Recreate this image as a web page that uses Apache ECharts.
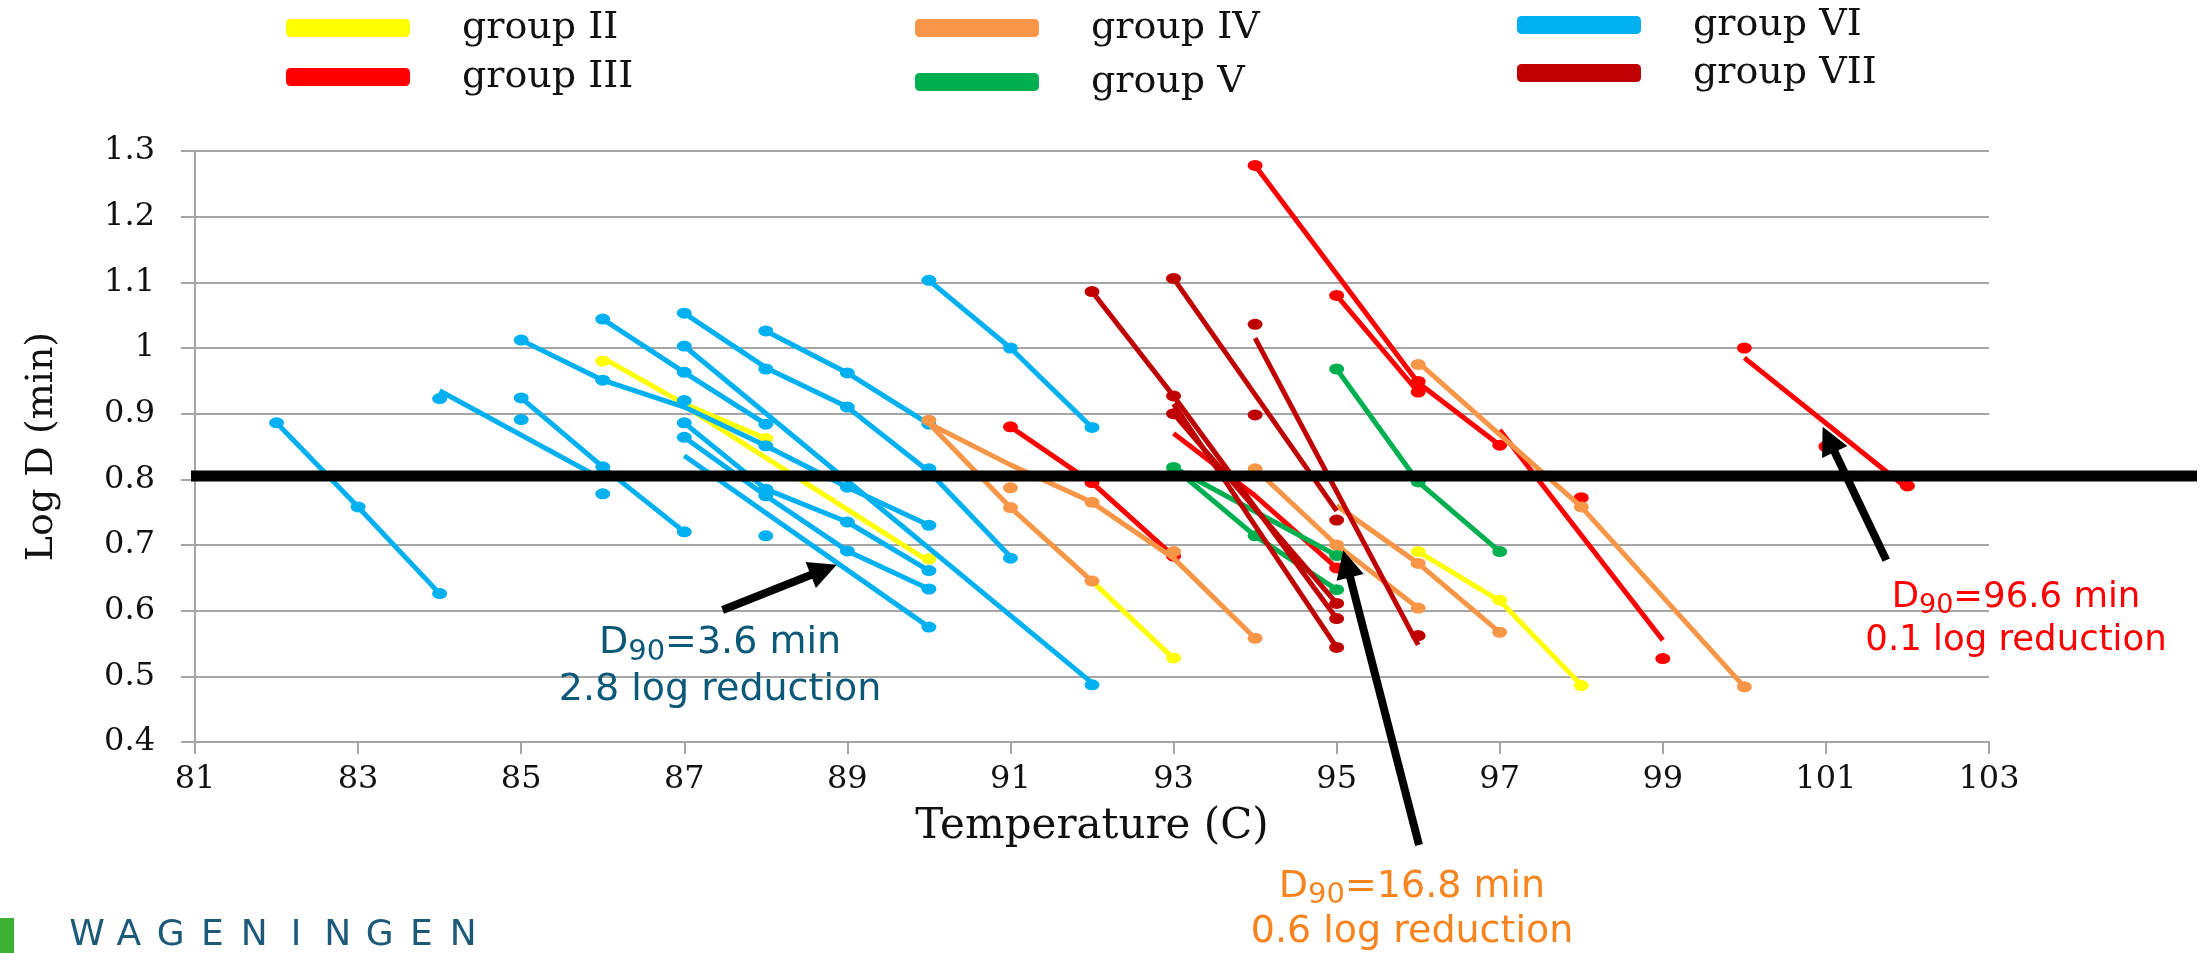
<!DOCTYPE html>
<html>
<head>
<meta charset="utf-8">
<script src="https://cdn.jsdelivr.net/npm/echarts@6/dist/echarts.min.js"></script>
<style>
  html, body { margin: 0; padding: 0; background: #ffffff; }
  #chart { width: 2207px; height: 953px; }
</style>
</head>
<body>
<div id="chart"></div>
<script>
// ---- axes ----
const tempRange = [81, 103];      // Temperature (C)
const tempStep = 2;
const logDRange = [0.4, 1.3];     // Log D (min)
const logDStep = 0.1;
const thresholdLogD = 0.805;      // heavy reference line

// ---- data: each line is a list of [temperature, log D]; points are the plotted markers ----
const linesII = [
  [[86, 0.985], [87, 0.915], [88, 0.862]],
  [[87, 0.912], [90, 0.675]],
  [[92, 0.645], [93, 0.527]],
  [[96, 0.69], [97, 0.615], [98, 0.487]]
];
const pointsII = [[86, 0.98], [88, 0.862], [90, 0.679], [93, 0.528], [96, 0.69], [97, 0.616], [98, 0.486]];

const linesIII = [
  [[91, 0.88], [92, 0.795], [93, 0.683]],
  [[93, 0.87], [94, 0.775], [95, 0.665]],
  [[94, 1.278], [96, 0.947], [97, 0.852]],
  [[95, 1.08], [96, 0.933]],
  [[97, 0.875], [99, 0.555]],
  [[100, 0.985], [102, 0.786]]
];
const pointsIII = [[91, 0.88], [92, 0.795], [93, 0.683], [94, 1.278], [95, 1.08], [95, 0.665],
  [96, 0.949], [96, 0.933], [97, 0.852], [98, 0.772], [99, 0.527], [100, 1.0], [101, 0.85], [102, 0.79]];

const linesIV = [
  [[90, 0.885], [91, 0.822], [92, 0.765], [93, 0.68], [94, 0.558]],
  [[90, 0.885], [91, 0.757], [92, 0.645]],
  [[94, 0.816], [95, 0.70], [96, 0.604]],
  [[95, 0.76], [96, 0.672], [97, 0.567]],
  [[96, 0.978], [98, 0.758], [100, 0.484]]
];
const pointsIV = [[90, 0.89], [91, 0.787], [91, 0.757], [92, 0.765], [92, 0.645], [93, 0.69], [94, 0.816],
  [94, 0.558], [95, 0.70], [96, 0.975], [96, 0.672], [96, 0.604], [97, 0.567], [98, 0.758], [100, 0.484]];

const linesV = [
  [[93, 0.818], [95, 0.684]],
  [[93, 0.818], [94, 0.714], [95, 0.632]],
  [[95, 0.968], [96, 0.796], [97, 0.69]]
];
const pointsV = [[93, 0.818], [94, 0.714], [95, 0.684], [95, 0.632], [95, 0.968], [96, 0.796], [97, 0.69]];

const linesVI = [
  [[82, 0.886], [83, 0.758], [84, 0.626]],
  [[84, 0.935], [86, 0.80]],
  [[85, 0.924], [86, 0.819], [87, 0.72]],
  [[85, 1.012], [86, 0.951], [87, 0.91], [88, 0.851], [89, 0.788], [90, 0.73]],
  [[86, 1.044], [87, 0.963], [88, 0.884]],
  [[87, 1.053], [88, 0.97], [89, 0.91], [90, 0.812], [91, 0.682]],
  [[88, 1.026], [89, 0.962], [90, 0.884]],
  [[87, 1.003], [92, 0.49]],
  [[87, 0.886], [88, 0.785], [89, 0.735], [90, 0.661]],
  [[87, 0.864], [88, 0.775], [89, 0.691], [90, 0.633]],
  [[87, 0.836], [90, 0.575]],
  [[90, 1.103], [91, 1.0], [92, 0.879]]
];
const pointsVI = [[82, 0.886], [83, 0.758], [84, 0.626], [84, 0.923], [85, 1.012], [85, 0.924], [85, 0.891],
  [86, 1.044], [86, 0.951], [86, 0.819], [86, 0.778], [87, 1.053], [87, 1.003], [87, 0.963], [87, 0.92],
  [87, 0.886], [87, 0.864], [87, 0.72], [88, 1.026], [88, 0.968], [88, 0.884], [88, 0.851], [88, 0.785],
  [88, 0.775], [88, 0.714], [89, 0.962], [89, 0.91], [89, 0.788], [89, 0.735], [89, 0.691], [90, 1.103],
  [90, 0.884], [90, 0.816], [90, 0.73], [90, 0.661], [90, 0.633], [90, 0.575], [91, 1.0], [91, 0.68],
  [92, 0.879], [92, 0.487]];

const linesVII = [
  [[92, 1.086], [93, 0.927], [95, 0.588]],
  [[93, 0.90], [95, 0.611]],
  [[93, 0.915], [95, 0.544]],
  [[93, 1.106], [95, 0.752]],
  [[94, 1.015], [96, 0.548]]
];
const pointsVII = [[92, 1.086], [93, 1.106], [93, 0.927], [93, 0.90], [94, 1.036], [94, 0.898],
  [95, 0.738], [95, 0.611], [95, 0.588], [95, 0.544], [96, 0.562]];

// ---- annotations: arrow from tail to tip, in [temperature, log D] ----
const notes = [
  { d90: '=3.6 min',  reduction: '2.8 log reduction', tail: [87.47, 0.601], tip: [88.87, 0.670] },
  { d90: '=16.8 min', reduction: '0.6 log reduction', tail: [96.01, 0.243], tip: [95.08, 0.692] },
  { d90: '=96.6 min', reduction: '0.1 log reduction', tail: [101.74, 0.677], tip: [100.96, 0.880] }
];

// ---- styling ----
const groups = [
  { name: 'group II',  color: '#FFFF00', lines: linesII,  points: pointsII },
  { name: 'group VI',  color: '#00B0F0', lines: linesVI,  points: pointsVI },
  { name: 'group III', color: '#FF0000', lines: linesIII, points: pointsIII },
  { name: 'group IV',  color: '#F79646', lines: linesIV,  points: pointsIV },
  { name: 'group V',   color: '#00B050', lines: linesV,   points: pointsV },
  { name: 'group VII', color: '#C00000', lines: linesVII, points: pointsVII }
];
const noteStyles = [
  { x: 720,  y: 620, size: 38, lh: 47, color: '#0B5878' },
  { x: 1412, y: 865, size: 38, lh: 45, color: '#F7841F' },
  { x: 2016, y: 576, size: 35.5, lh: 43, color: '#FF0000' }
];
const gridColor = '#A6A6A6';
const serif = '"DejaVu Serif", "Liberation Serif", serif';
const sans = '"DejaVu Sans", Verdana, sans-serif';

const series = [];
groups.forEach((g, gi) => {
  g.lines.forEach(seg => series.push({
    name: g.name, type: 'line', data: seg, symbol: 'none', silent: true,
    lineStyle: { color: g.color, width: 5 }, itemStyle: { color: g.color },
    z: 2 + gi * 0.01, animation: false
  }));
  series.push({
    name: g.name, type: 'scatter', data: g.points, symbol: 'circle', symbolSize: [15, 11],
    silent: true, itemStyle: { color: g.color, opacity: 1 }, z: 2 + gi * 0.01 + 0.005, animation: false
  });
});

const legendBase = {
  orient: 'vertical', icon: 'roundRect', itemWidth: 124, itemHeight: 18, padding: 0,
  selectedMode: false,
  textStyle: { fontFamily: serif, fontSize: 38, color: '#111', lineHeight: 40, padding: [0, 0, 0, 47] }
};

const chart = echarts.init(document.getElementById('chart'), null, { renderer: 'canvas' });
chart.setOption({
  animation: false,
  backgroundColor: '#ffffff',
  legend: [
    Object.assign({}, legendBase, { left: 286, top: 8, itemGap: 9, data: ['group II', 'group III'] }),
    Object.assign({}, legendBase, { left: 915, top: 8, itemGap: 14, data: ['group IV', 'group V'] }),
    Object.assign({}, legendBase, { left: 1517, top: 5, itemGap: 8, data: ['group VI', 'group VII'] })
  ],
  grid: { left: 195, right: 218, top: 151, bottom: 211, containLabel: false, outerBoundsMode: 'none' },
  xAxis: {
    type: 'value', min: tempRange[0], max: tempRange[1], interval: tempStep,
    name: 'Temperature (C)', nameLocation: 'middle', nameGap: 64,
    nameTextStyle: { fontFamily: serif, fontSize: 42, color: '#111' },
    axisLine: { show: true, lineStyle: { color: gridColor, width: 2 } },
    axisTick: { show: true, length: 12, lineStyle: { color: gridColor, width: 2 } },
    axisLabel: { fontFamily: serif, fontSize: 32, color: '#111', margin: 22, showMinLabel: true, showMaxLabel: true },
    splitLine: { show: false }
  },
  yAxis: {
    type: 'value', min: logDRange[0], max: logDRange[1], interval: logDStep,
    name: 'Log D (min)', nameLocation: 'middle', nameGap: 134,
    nameTextStyle: { fontFamily: serif, fontSize: 38, color: '#111' },
    axisLine: { show: true, lineStyle: { color: gridColor, width: 2 } },
    axisTick: { show: true, length: 14, lineStyle: { color: gridColor, width: 2 } },
    axisLabel: { fontFamily: serif, fontSize: 32, color: '#111', margin: 40,
      formatter: v => String(Math.round(v * 10) / 10) },
    splitLine: { show: true, lineStyle: { color: gridColor, width: 2 } }
  },
  series: series
});

// ---- overlay: reference line, arrows, notes, footer ----
const px = (t, v) => chart.convertToPixel({ gridIndex: 0 }, [t, v]);
const gfx = [];
const yRef = px(tempRange[0], thresholdLogD)[1];
const xRef0 = px(tempRange[0], thresholdLogD)[0] - 4;
gfx.push({ type: 'line', shape: { x1: xRef0, y1: yRef, x2: 2197, y2: yRef },
  style: { stroke: '#000', lineWidth: 11 }, z: 100 });

function arrow(tail, tip) {
  const [x1, y1] = px(tail[0], tail[1]);
  const [x2, y2] = px(tip[0], tip[1]);
  const dx = x2 - x1, dy = y2 - y1, len = Math.hypot(dx, dy);
  const ux = dx / len, uy = dy / len;
  const hl = 28, hw = 14;
  const bx = x2 - ux * hl, by = y2 - uy * hl;
  return [
    { type: 'line', shape: { x1: x1, y1: y1, x2: bx + ux * 2, y2: by + uy * 2 },
      style: { stroke: '#000', lineWidth: 8 }, z: 101 },
    { type: 'polygon', shape: { points: [[x2, y2], [bx - uy * hw, by + ux * hw], [bx + uy * hw, by - ux * hw]] },
      style: { fill: '#000' }, z: 101 }
  ];
}
notes.forEach((n, i) => {
  arrow(n.tail, n.tip).forEach(e => gfx.push(e));
  const s = noteStyles[i];
  const subLH = Math.round(s.lh - 26);
  gfx.push({ type: 'text', x: s.x, y: s.y, z: 102,
    style: {
      text: '{m|D}{s|90}{m|' + n.d90 + '}\n{m|' + n.reduction + '}',
      align: 'center', verticalAlign: 'top', textAlign: 'center', textVerticalAlign: 'top',
      rich: {
        m: { fill: s.color, fontSize: s.size, fontFamily: sans, lineHeight: s.lh },
        s: { fill: s.color, fontSize: Math.round(s.size * 0.76), fontFamily: sans,
             lineHeight: subLH, verticalAlign: 'bottom' }
      }
    } });
});

gfx.push({ type: 'rect', shape: { x: 0, y: 918, width: 14, height: 35 }, style: { fill: '#3DB134' }, z: 100 });
'WAGENINGEN'.split('').forEach((ch, i) => {
  gfx.push({ type: 'text', x: 87 + i * 41.8, y: 936, z: 100,
    style: { text: ch, fill: '#1D5A79', fontSize: 36, fontFamily: sans,
      align: 'center', verticalAlign: 'middle', textAlign: 'center', textVerticalAlign: 'middle' } });
});

chart.setOption({ graphic: { elements: gfx } });
</script>
</body>
</html>
